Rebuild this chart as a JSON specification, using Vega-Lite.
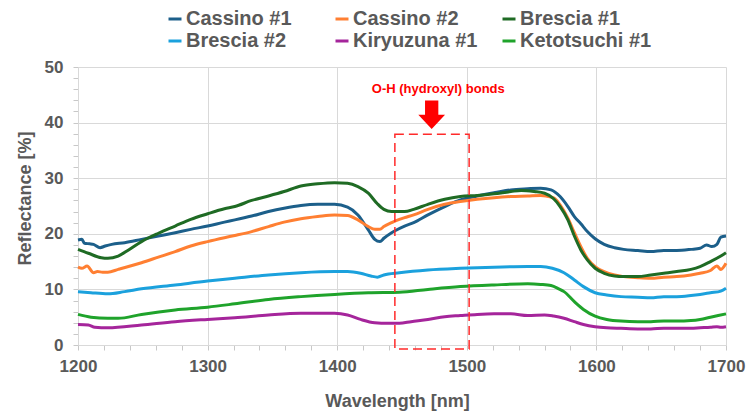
{
  "$schema": "https://vega.github.io/schema/vega-lite/v6.json",
  "width": 648,
  "height": 278,
  "autosize": {"type": "none"},
  "padding": {"left": 78, "top": 67, "right": 21, "bottom": 71},
  "config": {
    "view": {"stroke": null},
    "font": "Liberation Sans",
    "axis": {
      "gridColor": "#D9D9D9",
      "gridWidth": 1,
      "domainColor": "#D9D9D9",
      "tickColor": "#C8C8C8",
      "tickSize": 5,
      "labelOverlap": false,
      "labelFlush": false,
      "labelFont": "Liberation Sans",
      "labelFontWeight": "bold",
      "labelFontSize": 17,
      "labelColor": "#595959",
      "titleFont": "Liberation Sans",
      "titleFontWeight": "bold",
      "titleFontSize": 18,
      "titleColor": "#595959"
    }
  },
  "layer": [
    {
      "data": {
        "values": [
          {"s": "Cassino #1", "w": 1200, "r": 18.9}, {"s": "Cassino #1", "w": 1203, "r": 19.0}, {"s": "Cassino #1", "w": 1205, "r": 18.3}, {"s": "Cassino #1", "w": 1209, "r": 18.2}, {"s": "Cassino #1", "w": 1212, "r": 18.1}, {"s": "Cassino #1", "w": 1217, "r": 17.5}, {"s": "Cassino #1", "w": 1221, "r": 17.8}, {"s": "Cassino #1", "w": 1226, "r": 18.1}, {"s": "Cassino #1", "w": 1236, "r": 18.4}, {"s": "Cassino #1", "w": 1249, "r": 19.0}, {"s": "Cassino #1", "w": 1262, "r": 19.6}, {"s": "Cassino #1", "w": 1275, "r": 20.2}, {"s": "Cassino #1", "w": 1287, "r": 20.8}, {"s": "Cassino #1", "w": 1300, "r": 21.4}, {"s": "Cassino #1", "w": 1313, "r": 22.1}, {"s": "Cassino #1", "w": 1321, "r": 22.5}, {"s": "Cassino #1", "w": 1334, "r": 23.2}, {"s": "Cassino #1", "w": 1347, "r": 24.0}, {"s": "Cassino #1", "w": 1359, "r": 24.6}, {"s": "Cassino #1", "w": 1372, "r": 25.1}, {"s": "Cassino #1", "w": 1385, "r": 25.3}, {"s": "Cassino #1", "w": 1398, "r": 25.3}, {"s": "Cassino #1", "w": 1408, "r": 24.8}, {"s": "Cassino #1", "w": 1416, "r": 23.4}, {"s": "Cassino #1", "w": 1424, "r": 20.7}, {"s": "Cassino #1", "w": 1429, "r": 19.0}, {"s": "Cassino #1", "w": 1433, "r": 18.6}, {"s": "Cassino #1", "w": 1436, "r": 19.2}, {"s": "Cassino #1", "w": 1442, "r": 20.2}, {"s": "Cassino #1", "w": 1445, "r": 20.6}, {"s": "Cassino #1", "w": 1452, "r": 21.4}, {"s": "Cassino #1", "w": 1459, "r": 22.0}, {"s": "Cassino #1", "w": 1470, "r": 23.4}, {"s": "Cassino #1", "w": 1483, "r": 24.9}, {"s": "Cassino #1", "w": 1495, "r": 26.1}, {"s": "Cassino #1", "w": 1508, "r": 26.8}, {"s": "Cassino #1", "w": 1521, "r": 27.4}, {"s": "Cassino #1", "w": 1534, "r": 27.9}, {"s": "Cassino #1", "w": 1547, "r": 28.1}, {"s": "Cassino #1", "w": 1557, "r": 28.2}, {"s": "Cassino #1", "w": 1565, "r": 27.9}, {"s": "Cassino #1", "w": 1572, "r": 26.7}, {"s": "Cassino #1", "w": 1578, "r": 24.9}, {"s": "Cassino #1", "w": 1583, "r": 23.1}, {"s": "Cassino #1", "w": 1588, "r": 21.8}, {"s": "Cassino #1", "w": 1593, "r": 20.4}, {"s": "Cassino #1", "w": 1599, "r": 19.1}, {"s": "Cassino #1", "w": 1606, "r": 18.1}, {"s": "Cassino #1", "w": 1614, "r": 17.5}, {"s": "Cassino #1", "w": 1621, "r": 17.2}, {"s": "Cassino #1", "w": 1632, "r": 17.0}, {"s": "Cassino #1", "w": 1642, "r": 16.8}, {"s": "Cassino #1", "w": 1652, "r": 17.0}, {"s": "Cassino #1", "w": 1662, "r": 17.0}, {"s": "Cassino #1", "w": 1673, "r": 17.2}, {"s": "Cassino #1", "w": 1680, "r": 17.4}, {"s": "Cassino #1", "w": 1685, "r": 18.0}, {"s": "Cassino #1", "w": 1689, "r": 17.7}, {"s": "Cassino #1", "w": 1693, "r": 18.1}, {"s": "Cassino #1", "w": 1696, "r": 19.4}, {"s": "Cassino #1", "w": 1700, "r": 19.6},
          {"s": "Cassino #2", "w": 1200, "r": 14.0}, {"s": "Cassino #2", "w": 1203, "r": 13.8}, {"s": "Cassino #2", "w": 1207, "r": 14.2}, {"s": "Cassino #2", "w": 1212, "r": 13.0}, {"s": "Cassino #2", "w": 1215, "r": 13.2}, {"s": "Cassino #2", "w": 1219, "r": 13.1}, {"s": "Cassino #2", "w": 1223, "r": 13.1}, {"s": "Cassino #2", "w": 1231, "r": 13.6}, {"s": "Cassino #2", "w": 1249, "r": 14.8}, {"s": "Cassino #2", "w": 1262, "r": 15.8}, {"s": "Cassino #2", "w": 1275, "r": 16.8}, {"s": "Cassino #2", "w": 1287, "r": 17.8}, {"s": "Cassino #2", "w": 1300, "r": 18.6}, {"s": "Cassino #2", "w": 1313, "r": 19.3}, {"s": "Cassino #2", "w": 1321, "r": 19.7}, {"s": "Cassino #2", "w": 1334, "r": 20.4}, {"s": "Cassino #2", "w": 1347, "r": 21.3}, {"s": "Cassino #2", "w": 1359, "r": 22.1}, {"s": "Cassino #2", "w": 1372, "r": 22.7}, {"s": "Cassino #2", "w": 1385, "r": 23.1}, {"s": "Cassino #2", "w": 1398, "r": 23.4}, {"s": "Cassino #2", "w": 1408, "r": 23.3}, {"s": "Cassino #2", "w": 1416, "r": 22.5}, {"s": "Cassino #2", "w": 1424, "r": 21.3}, {"s": "Cassino #2", "w": 1429, "r": 20.8}, {"s": "Cassino #2", "w": 1433, "r": 20.8}, {"s": "Cassino #2", "w": 1436, "r": 21.3}, {"s": "Cassino #2", "w": 1442, "r": 22.0}, {"s": "Cassino #2", "w": 1448, "r": 22.6}, {"s": "Cassino #2", "w": 1452, "r": 22.9}, {"s": "Cassino #2", "w": 1459, "r": 23.4}, {"s": "Cassino #2", "w": 1470, "r": 24.4}, {"s": "Cassino #2", "w": 1483, "r": 25.3}, {"s": "Cassino #2", "w": 1495, "r": 25.8}, {"s": "Cassino #2", "w": 1508, "r": 26.2}, {"s": "Cassino #2", "w": 1521, "r": 26.5}, {"s": "Cassino #2", "w": 1534, "r": 26.7}, {"s": "Cassino #2", "w": 1547, "r": 26.8}, {"s": "Cassino #2", "w": 1557, "r": 26.9}, {"s": "Cassino #2", "w": 1565, "r": 26.6}, {"s": "Cassino #2", "w": 1568, "r": 26.3}, {"s": "Cassino #2", "w": 1572, "r": 25.2}, {"s": "Cassino #2", "w": 1578, "r": 22.8}, {"s": "Cassino #2", "w": 1583, "r": 20.2}, {"s": "Cassino #2", "w": 1588, "r": 17.7}, {"s": "Cassino #2", "w": 1593, "r": 15.6}, {"s": "Cassino #2", "w": 1599, "r": 14.1}, {"s": "Cassino #2", "w": 1606, "r": 13.2}, {"s": "Cassino #2", "w": 1614, "r": 12.6}, {"s": "Cassino #2", "w": 1621, "r": 12.3}, {"s": "Cassino #2", "w": 1632, "r": 12.1}, {"s": "Cassino #2", "w": 1642, "r": 12.0}, {"s": "Cassino #2", "w": 1652, "r": 12.2}, {"s": "Cassino #2", "w": 1662, "r": 12.3}, {"s": "Cassino #2", "w": 1673, "r": 12.6}, {"s": "Cassino #2", "w": 1680, "r": 12.9}, {"s": "Cassino #2", "w": 1688, "r": 13.4}, {"s": "Cassino #2", "w": 1693, "r": 14.2}, {"s": "Cassino #2", "w": 1696, "r": 13.6}, {"s": "Cassino #2", "w": 1700, "r": 14.7},
          {"s": "Brescia #1", "w": 1200, "r": 17.2}, {"s": "Brescia #1", "w": 1208, "r": 16.5}, {"s": "Brescia #1", "w": 1218, "r": 15.7}, {"s": "Brescia #1", "w": 1223, "r": 15.6}, {"s": "Brescia #1", "w": 1231, "r": 16.0}, {"s": "Brescia #1", "w": 1239, "r": 17.1}, {"s": "Brescia #1", "w": 1249, "r": 18.6}, {"s": "Brescia #1", "w": 1262, "r": 20.1}, {"s": "Brescia #1", "w": 1275, "r": 21.4}, {"s": "Brescia #1", "w": 1287, "r": 22.6}, {"s": "Brescia #1", "w": 1300, "r": 23.6}, {"s": "Brescia #1", "w": 1313, "r": 24.5}, {"s": "Brescia #1", "w": 1321, "r": 24.9}, {"s": "Brescia #1", "w": 1334, "r": 26.0}, {"s": "Brescia #1", "w": 1347, "r": 26.8}, {"s": "Brescia #1", "w": 1359, "r": 27.6}, {"s": "Brescia #1", "w": 1372, "r": 28.6}, {"s": "Brescia #1", "w": 1385, "r": 29.0}, {"s": "Brescia #1", "w": 1398, "r": 29.2}, {"s": "Brescia #1", "w": 1408, "r": 29.1}, {"s": "Brescia #1", "w": 1416, "r": 28.5}, {"s": "Brescia #1", "w": 1424, "r": 27.3}, {"s": "Brescia #1", "w": 1431, "r": 25.4}, {"s": "Brescia #1", "w": 1436, "r": 24.4}, {"s": "Brescia #1", "w": 1442, "r": 24.0}, {"s": "Brescia #1", "w": 1448, "r": 24.0}, {"s": "Brescia #1", "w": 1452, "r": 24.0}, {"s": "Brescia #1", "w": 1459, "r": 24.4}, {"s": "Brescia #1", "w": 1470, "r": 25.3}, {"s": "Brescia #1", "w": 1483, "r": 26.2}, {"s": "Brescia #1", "w": 1495, "r": 26.7}, {"s": "Brescia #1", "w": 1508, "r": 26.9}, {"s": "Brescia #1", "w": 1521, "r": 27.2}, {"s": "Brescia #1", "w": 1534, "r": 27.6}, {"s": "Brescia #1", "w": 1542, "r": 27.8}, {"s": "Brescia #1", "w": 1552, "r": 27.6}, {"s": "Brescia #1", "w": 1560, "r": 27.3}, {"s": "Brescia #1", "w": 1567, "r": 26.3}, {"s": "Brescia #1", "w": 1572, "r": 24.9}, {"s": "Brescia #1", "w": 1578, "r": 22.5}, {"s": "Brescia #1", "w": 1583, "r": 19.6}, {"s": "Brescia #1", "w": 1588, "r": 17.1}, {"s": "Brescia #1", "w": 1593, "r": 15.3}, {"s": "Brescia #1", "w": 1599, "r": 13.8}, {"s": "Brescia #1", "w": 1606, "r": 12.9}, {"s": "Brescia #1", "w": 1614, "r": 12.4}, {"s": "Brescia #1", "w": 1621, "r": 12.3}, {"s": "Brescia #1", "w": 1632, "r": 12.3}, {"s": "Brescia #1", "w": 1642, "r": 12.6}, {"s": "Brescia #1", "w": 1652, "r": 12.9}, {"s": "Brescia #1", "w": 1662, "r": 13.2}, {"s": "Brescia #1", "w": 1673, "r": 13.6}, {"s": "Brescia #1", "w": 1680, "r": 14.1}, {"s": "Brescia #1", "w": 1688, "r": 15.0}, {"s": "Brescia #1", "w": 1696, "r": 16.0}, {"s": "Brescia #1", "w": 1700, "r": 16.6},
          {"s": "Brescia #2", "w": 1200, "r": 9.6}, {"s": "Brescia #2", "w": 1210, "r": 9.4}, {"s": "Brescia #2", "w": 1223, "r": 9.2}, {"s": "Brescia #2", "w": 1236, "r": 9.6}, {"s": "Brescia #2", "w": 1249, "r": 10.1}, {"s": "Brescia #2", "w": 1275, "r": 10.8}, {"s": "Brescia #2", "w": 1300, "r": 11.5}, {"s": "Brescia #2", "w": 1321, "r": 12.0}, {"s": "Brescia #2", "w": 1347, "r": 12.6}, {"s": "Brescia #2", "w": 1372, "r": 13.0}, {"s": "Brescia #2", "w": 1398, "r": 13.2}, {"s": "Brescia #2", "w": 1408, "r": 13.2}, {"s": "Brescia #2", "w": 1418, "r": 12.9}, {"s": "Brescia #2", "w": 1426, "r": 12.4}, {"s": "Brescia #2", "w": 1431, "r": 12.2}, {"s": "Brescia #2", "w": 1436, "r": 12.6}, {"s": "Brescia #2", "w": 1448, "r": 13.0}, {"s": "Brescia #2", "w": 1470, "r": 13.5}, {"s": "Brescia #2", "w": 1495, "r": 13.8}, {"s": "Brescia #2", "w": 1521, "r": 14.0}, {"s": "Brescia #2", "w": 1547, "r": 14.1}, {"s": "Brescia #2", "w": 1557, "r": 14.1}, {"s": "Brescia #2", "w": 1566, "r": 13.8}, {"s": "Brescia #2", "w": 1575, "r": 13.0}, {"s": "Brescia #2", "w": 1583, "r": 11.7}, {"s": "Brescia #2", "w": 1590, "r": 10.5}, {"s": "Brescia #2", "w": 1599, "r": 9.4}, {"s": "Brescia #2", "w": 1608, "r": 9.0}, {"s": "Brescia #2", "w": 1619, "r": 8.7}, {"s": "Brescia #2", "w": 1632, "r": 8.6}, {"s": "Brescia #2", "w": 1642, "r": 8.5}, {"s": "Brescia #2", "w": 1652, "r": 8.7}, {"s": "Brescia #2", "w": 1662, "r": 8.7}, {"s": "Brescia #2", "w": 1673, "r": 8.9}, {"s": "Brescia #2", "w": 1680, "r": 9.1}, {"s": "Brescia #2", "w": 1688, "r": 9.4}, {"s": "Brescia #2", "w": 1696, "r": 9.7}, {"s": "Brescia #2", "w": 1700, "r": 10.2},
          {"s": "Kiryuzuna #1", "w": 1200, "r": 3.7}, {"s": "Kiryuzuna #1", "w": 1208, "r": 3.6}, {"s": "Kiryuzuna #1", "w": 1213, "r": 3.2}, {"s": "Kiryuzuna #1", "w": 1223, "r": 3.1}, {"s": "Kiryuzuna #1", "w": 1249, "r": 3.6}, {"s": "Kiryuzuna #1", "w": 1275, "r": 4.2}, {"s": "Kiryuzuna #1", "w": 1300, "r": 4.6}, {"s": "Kiryuzuna #1", "w": 1321, "r": 4.9}, {"s": "Kiryuzuna #1", "w": 1347, "r": 5.4}, {"s": "Kiryuzuna #1", "w": 1372, "r": 5.7}, {"s": "Kiryuzuna #1", "w": 1398, "r": 5.7}, {"s": "Kiryuzuna #1", "w": 1408, "r": 5.4}, {"s": "Kiryuzuna #1", "w": 1418, "r": 4.6}, {"s": "Kiryuzuna #1", "w": 1429, "r": 4.0}, {"s": "Kiryuzuna #1", "w": 1439, "r": 3.9}, {"s": "Kiryuzuna #1", "w": 1448, "r": 3.9}, {"s": "Kiryuzuna #1", "w": 1457, "r": 4.2}, {"s": "Kiryuzuna #1", "w": 1470, "r": 4.6}, {"s": "Kiryuzuna #1", "w": 1483, "r": 5.1}, {"s": "Kiryuzuna #1", "w": 1495, "r": 5.3}, {"s": "Kiryuzuna #1", "w": 1508, "r": 5.5}, {"s": "Kiryuzuna #1", "w": 1521, "r": 5.6}, {"s": "Kiryuzuna #1", "w": 1534, "r": 5.6}, {"s": "Kiryuzuna #1", "w": 1547, "r": 5.3}, {"s": "Kiryuzuna #1", "w": 1560, "r": 5.4}, {"s": "Kiryuzuna #1", "w": 1567, "r": 5.2}, {"s": "Kiryuzuna #1", "w": 1575, "r": 4.8}, {"s": "Kiryuzuna #1", "w": 1583, "r": 4.2}, {"s": "Kiryuzuna #1", "w": 1590, "r": 3.7}, {"s": "Kiryuzuna #1", "w": 1599, "r": 3.3}, {"s": "Kiryuzuna #1", "w": 1608, "r": 3.1}, {"s": "Kiryuzuna #1", "w": 1619, "r": 3.0}, {"s": "Kiryuzuna #1", "w": 1632, "r": 2.9}, {"s": "Kiryuzuna #1", "w": 1642, "r": 2.9}, {"s": "Kiryuzuna #1", "w": 1652, "r": 3.0}, {"s": "Kiryuzuna #1", "w": 1662, "r": 3.0}, {"s": "Kiryuzuna #1", "w": 1673, "r": 3.0}, {"s": "Kiryuzuna #1", "w": 1680, "r": 3.1}, {"s": "Kiryuzuna #1", "w": 1688, "r": 3.2}, {"s": "Kiryuzuna #1", "w": 1693, "r": 3.3}, {"s": "Kiryuzuna #1", "w": 1696, "r": 3.2}, {"s": "Kiryuzuna #1", "w": 1700, "r": 3.3},
          {"s": "Ketotsuchi #1", "w": 1200, "r": 5.5}, {"s": "Ketotsuchi #1", "w": 1210, "r": 5.0}, {"s": "Ketotsuchi #1", "w": 1223, "r": 4.8}, {"s": "Ketotsuchi #1", "w": 1231, "r": 4.8}, {"s": "Ketotsuchi #1", "w": 1249, "r": 5.5}, {"s": "Ketotsuchi #1", "w": 1275, "r": 6.3}, {"s": "Ketotsuchi #1", "w": 1300, "r": 6.8}, {"s": "Ketotsuchi #1", "w": 1321, "r": 7.4}, {"s": "Ketotsuchi #1", "w": 1347, "r": 8.2}, {"s": "Ketotsuchi #1", "w": 1372, "r": 8.7}, {"s": "Ketotsuchi #1", "w": 1398, "r": 9.1}, {"s": "Ketotsuchi #1", "w": 1424, "r": 9.4}, {"s": "Ketotsuchi #1", "w": 1448, "r": 9.5}, {"s": "Ketotsuchi #1", "w": 1470, "r": 10.0}, {"s": "Ketotsuchi #1", "w": 1495, "r": 10.5}, {"s": "Ketotsuchi #1", "w": 1521, "r": 10.8}, {"s": "Ketotsuchi #1", "w": 1547, "r": 11.0}, {"s": "Ketotsuchi #1", "w": 1557, "r": 10.9}, {"s": "Ketotsuchi #1", "w": 1565, "r": 10.7}, {"s": "Ketotsuchi #1", "w": 1571, "r": 10.1}, {"s": "Ketotsuchi #1", "w": 1575, "r": 9.6}, {"s": "Ketotsuchi #1", "w": 1583, "r": 7.8}, {"s": "Ketotsuchi #1", "w": 1590, "r": 6.4}, {"s": "Ketotsuchi #1", "w": 1599, "r": 5.2}, {"s": "Ketotsuchi #1", "w": 1608, "r": 4.6}, {"s": "Ketotsuchi #1", "w": 1619, "r": 4.3}, {"s": "Ketotsuchi #1", "w": 1632, "r": 4.2}, {"s": "Ketotsuchi #1", "w": 1642, "r": 4.2}, {"s": "Ketotsuchi #1", "w": 1652, "r": 4.3}, {"s": "Ketotsuchi #1", "w": 1662, "r": 4.3}, {"s": "Ketotsuchi #1", "w": 1673, "r": 4.4}, {"s": "Ketotsuchi #1", "w": 1680, "r": 4.6}, {"s": "Ketotsuchi #1", "w": 1688, "r": 5.0}, {"s": "Ketotsuchi #1", "w": 1700, "r": 5.6}
        ]
      },
      "mark": {"type": "line", "strokeWidth": 3, "interpolate": "monotone"},
      "encoding": {
        "x": {
          "field": "w",
          "type": "quantitative",
          "scale": {"domain": [1200, 1700], "nice": false},
          "axis": {
            "values": [1200, 1220, 1240, 1260, 1280, 1300, 1320, 1340, 1360, 1380, 1400, 1420, 1440, 1460, 1480, 1500, 1520, 1540, 1560, 1580, 1600, 1620, 1640, 1660, 1680, 1700],
            "tickCount": 40,
            "labelExpr": "datum.value % 100 === 0 ? datum.label : ''",
            "format": "d",
            "gridOpacity": {"condition": {"test": "datum.value % 100 === 0", "value": 1}, "value": 0},
            "labelPadding": 8,
            "title": "Wavelength [nm]",
            "titleX": 319,
            "titleY": 56,
            "titleBaseline": "middle"
          }
        },
        "y": {
          "field": "r",
          "type": "quantitative",
          "scale": {"domain": [0, 50], "nice": false},
          "axis": {
            "values": [0, 2, 4, 6, 8, 10, 12, 14, 16, 18, 20, 22, 24, 26, 28, 30, 32, 34, 36, 38, 40, 42, 44, 46, 48, 50],
            "tickCount": 40,
            "labelExpr": "datum.value % 10 === 0 ? datum.label : ''",
            "gridOpacity": {"condition": {"test": "datum.value % 10 === 0", "value": 1}, "value": 0},
            "labelPadding": 10,
            "title": "Reflectance [%]",
            "titleX": -53,
            "titleY": 131,
            "titleBaseline": "middle"
          }
        },
        "color": {
          "field": "s",
          "type": "nominal",
          "sort": ["Cassino #1", "Cassino #2", "Brescia #1", "Brescia #2", "Kiryuzuna #1", "Ketotsuchi #1"],
          "scale": {
            "domain": ["Cassino #1", "Cassino #2", "Brescia #1", "Brescia #2", "Kiryuzuna #1", "Ketotsuchi #1"],
            "range": ["#1C5F8A", "#FF7F32", "#1F6B24", "#1BA1DD", "#A5259B", "#1FA32B"]
          },
          "legend": {
            "orient": "none",
            "legendX": 87,
            "legendY": -58,
            "title": null,
            "columns": 3,
            "direction": "horizontal",
            "gridAlign": "all",
            "columnPadding": 11,
            "rowPadding": 2,
            "padding": 0,
            "symbolType": "stroke",
            "symbolSize": 169,
            "symbolStrokeWidth": 3,
            "labelFont": "Liberation Sans",
            "labelFontSize": 20,
            "labelFontWeight": "bold",
            "labelColor": "#595959",
            "labelOffset": 1,
            "labelLimit": 300
          }
        },
        "order": {"field": "w", "type": "quantitative"}
      }
    },
    {
      "data": {"values": [{}]},
      "mark": {"type": "rect", "fillOpacity": 0, "stroke": "#FF2A2A", "strokeWidth": 1.5, "strokeDash": [9, 5], "clip": false},
      "encoding": {
        "x": {"datum": 1444.5, "type": "quantitative"},
        "x2": {"datum": 1501.8},
        "y": {"datum": -0.7, "type": "quantitative"},
        "y2": {"datum": 37.9}
      }
    },
    {
      "data": {"values": [{}]},
      "mark": {"type": "point", "shape": "M-0.465,-1L0.465,-1L0.465,0L0.934,0L0,1L-0.934,0L-0.465,0Z", "size": 818, "filled": true, "fill": "#FF0000", "opacity": 1, "strokeWidth": 0},
      "encoding": {
        "x": {"datum": 1472.9, "type": "quantitative"},
        "y": {"datum": 41.4, "type": "quantitative"}
      }
    },
    {
      "data": {"values": [{}]},
      "mark": {"type": "text", "text": "O-H (hydroxyl) bonds", "font": "Liberation Sans", "fontSize": 13, "fontWeight": "bold", "fill": "#FF0000", "align": "center", "baseline": "alphabetic"},
      "encoding": {
        "x": {"datum": 1478, "type": "quantitative"},
        "y": {"datum": 45.3, "type": "quantitative"}
      }
    }
  ]
}
